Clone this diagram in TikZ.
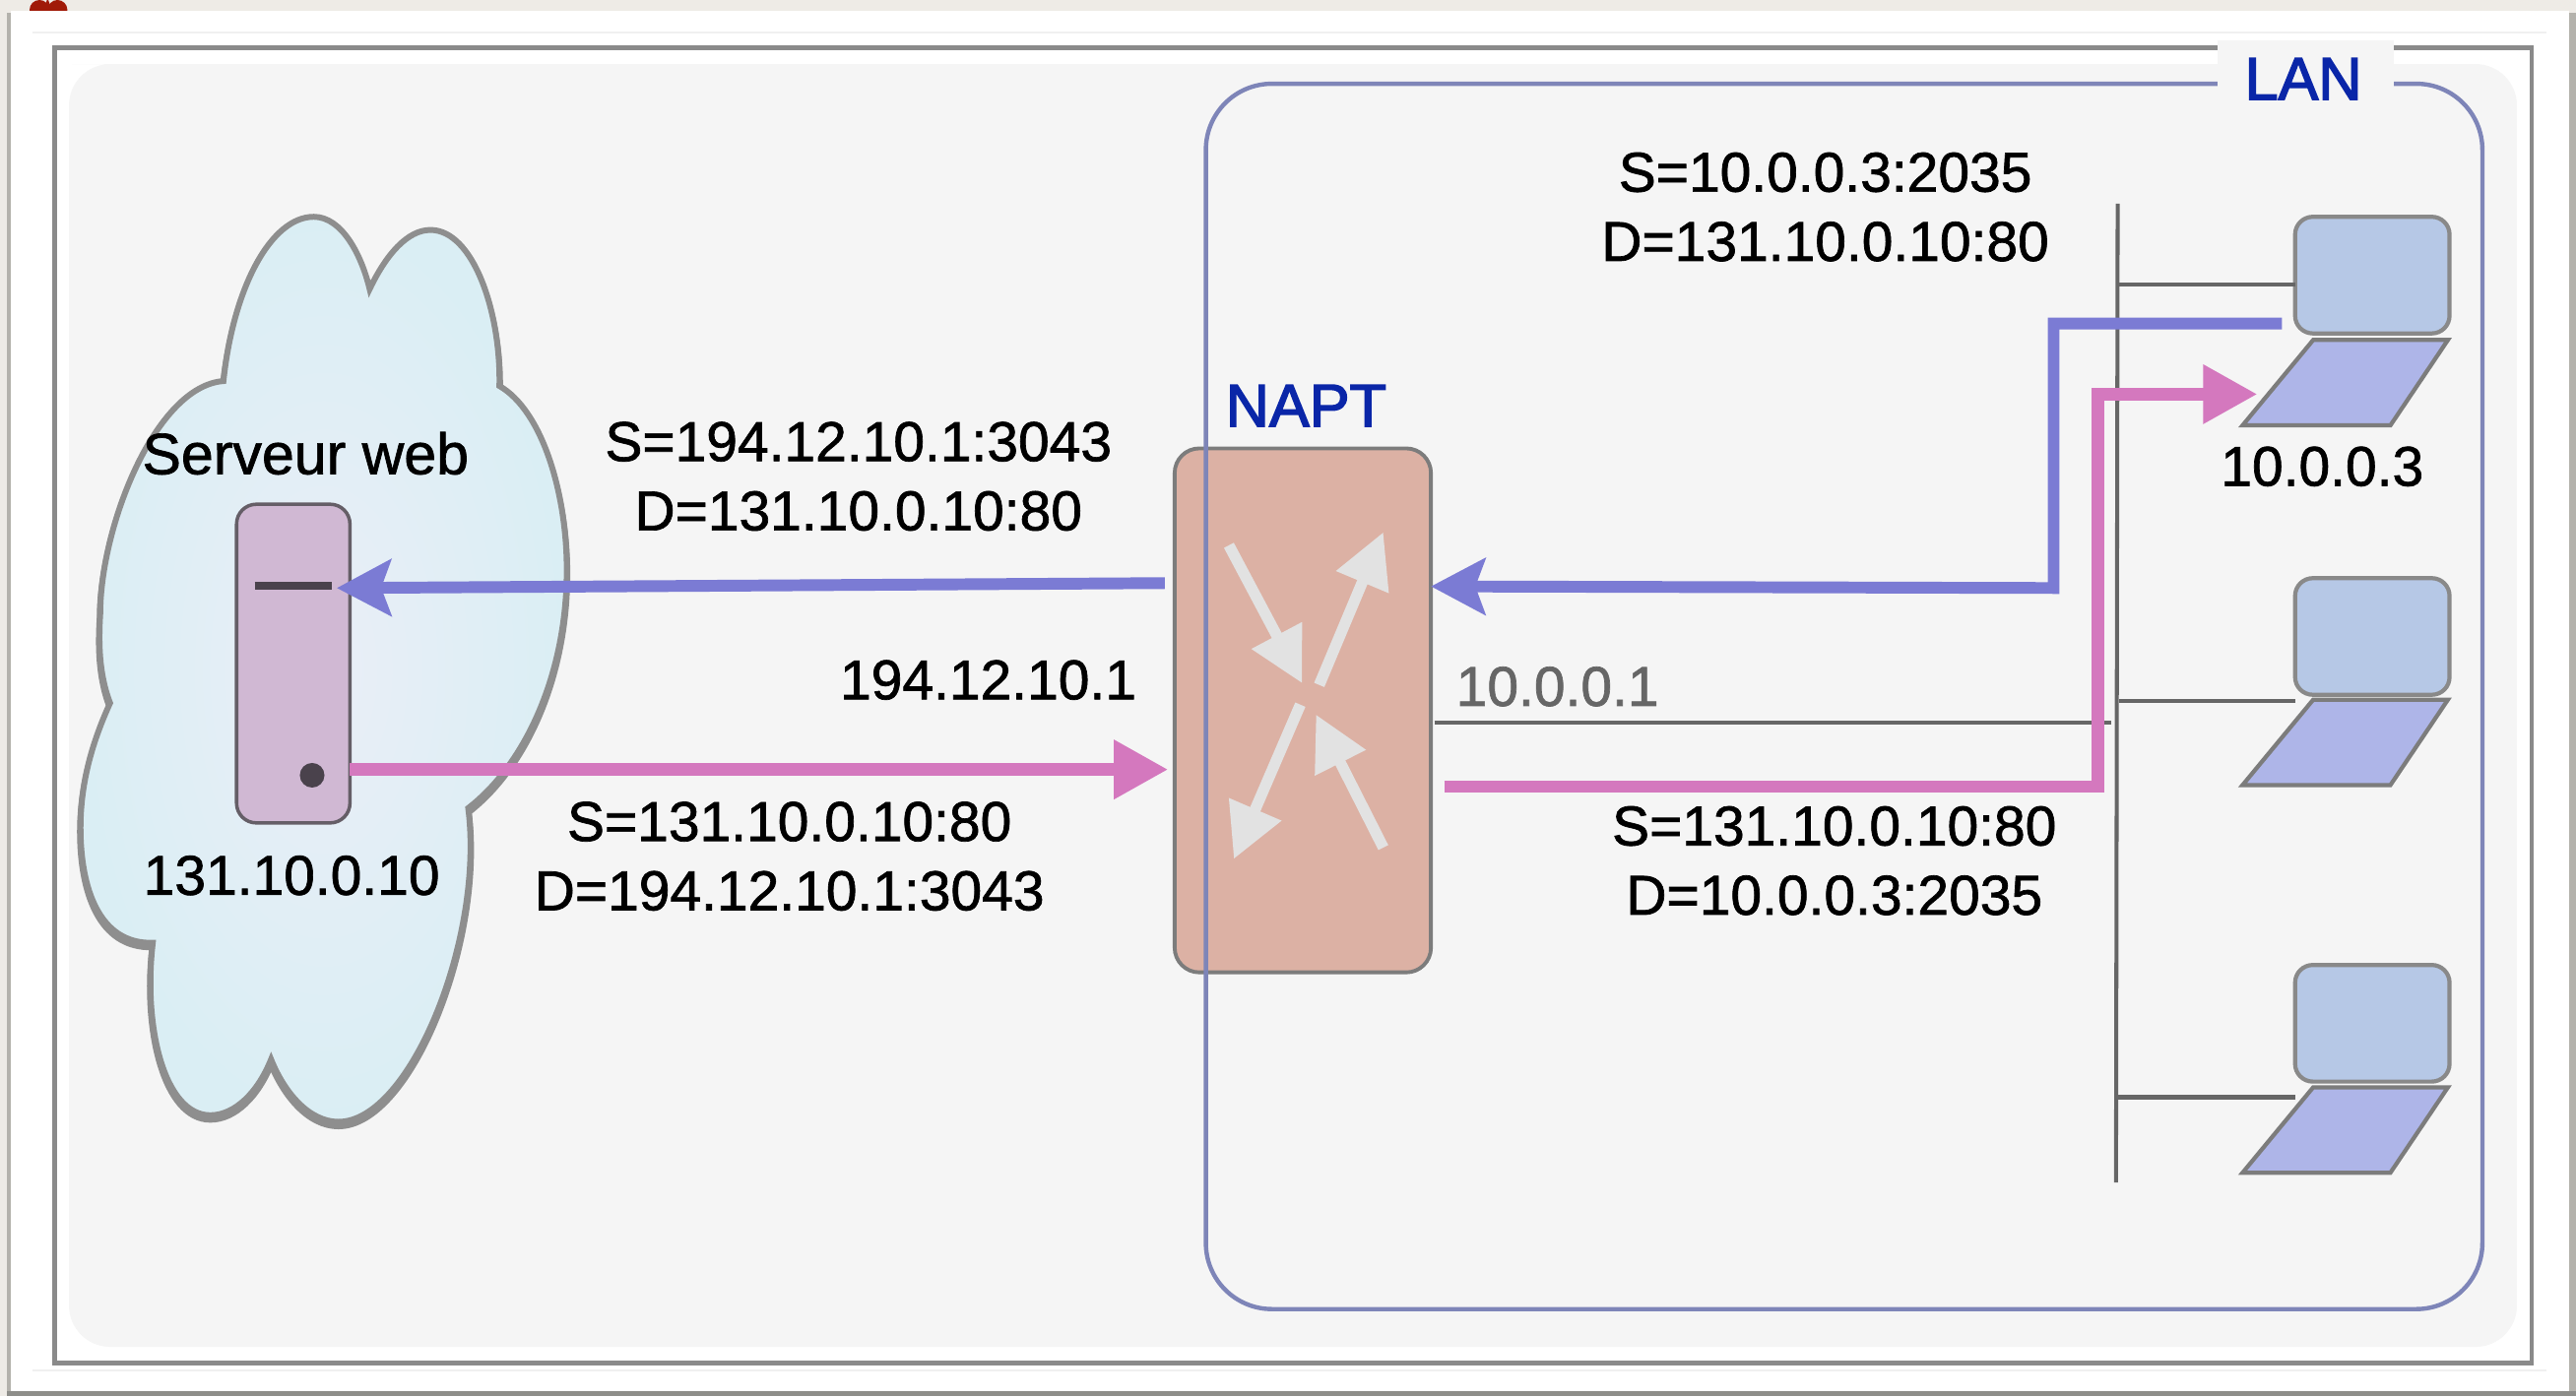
\documentclass[tikz,border=0pt]{standalone}
\usepackage{fontspec}
\setmainfont[FakeBold=1.2]{Liberation Sans}
\newfontfamily\titlefont[FakeBold=2.4]{Liberation Sans}
\usetikzlibrary{arrows.meta}
\definecolor{pagebg}{HTML}{EEEBE6}
\definecolor{panelshadow}{HTML}{B4B2AC}
\definecolor{panelbottom}{HTML}{8E8E8A}
\definecolor{hair}{HTML}{F0F0F0}
\definecolor{iconred}{HTML}{A01A08}
\definecolor{framegray}{HTML}{8A8A8A}
\definecolor{areagray}{HTML}{F5F5F5}
\definecolor{lanline}{HTML}{7E85B8}
\definecolor{titleblue}{HTML}{0A26A8}
\definecolor{cloudline}{HTML}{8E8E8E}
\definecolor{cloudout}{HTML}{DAEEF4}
\definecolor{cloudin}{HTML}{EAEEF7}
\definecolor{srvfill}{HTML}{D0B8D3}
\definecolor{srvdark}{HTML}{4A424C}
\definecolor{naptfill}{HTML}{DCB1A4}
\definecolor{boxline}{HTML}{7C7C7C}
\definecolor{screenfill}{HTML}{B6C8E6}
\definecolor{basefill}{HTML}{AEB5E8}
\definecolor{netline}{HTML}{666666}
\definecolor{bluepath}{HTML}{7B7BD4}
\definecolor{pinkpath}{HTML}{D478BE}
\definecolor{innerarrow}{HTML}{E2E2E2}
\tikzset{
  x=0.016684cm, y=-0.016684cm,
  txt/.style={inner sep=0pt, outer sep=0pt, align=center, text=black, font=\fontsize{16.2}{20}\selectfont},
  title/.style={inner sep=0pt, outer sep=0pt, text=titleblue, font=\titlefont\fontsize{17.4}{20}\selectfont},
  napt/.style={draw=boxline, line width=1.1pt, fill=naptfill, rounded corners=0.25cm, inner sep=0pt, outer sep=0pt, minimum width=156*0.016684cm, minimum height=319*0.016684cm},
  srv/.style={draw=srvdark!85!white, line width=1pt, fill=srvfill, rounded corners=0.2cm, inner sep=0pt, outer sep=0pt, minimum width=69*0.016684cm, minimum height=194*0.016684cm},
  screen/.style={draw=boxline!90!white, line width=1.2pt, fill=screenfill, rounded corners=0.18cm, inner sep=0pt, outer sep=0pt, minimum width=94*0.016684cm, minimum height=71*0.016684cm},
  base/.style={draw=boxline, line width=1.2pt, fill=basefill, line join=miter},
  net/.style={draw=netline, line width=1.15pt},
  bluearrow/.style={draw=bluepath, line width=3.4pt, -{Stealth[length=0.55cm,width=0.57cm,inset=0.1cm]}},
  pinkarrow/.style={draw=pinkpath, line width=3.6pt, -{Triangle[length=0.55cm,width=0.57cm]}},
  inner/.style={draw=innerarrow, line width=3.2pt, -{Triangle[length=0.55cm,width=0.55cm]}},
}
\begin{document}
\begin{tikzpicture}
\useasboundingbox (0,0) rectangle (1568,850);
% page and panel
\fill[pagebg] (0,0) rectangle (1568,850);
\fill[iconred] (24,6) circle (6);
\fill[iconred] (35,6) circle (6);
\fill[iconred] (26,7) -- (29,-1) -- (32,7) -- cycle;
\fill[panelshadow] (4,8) rectangle (1568,850);
\fill[panelbottom] (4,847) rectangle (1568,850);
\fill[white] (6.6,6.6) rectangle (1564,847);
\draw[hair, line width=0.5pt] (20,20) -- (1550,20);
\draw[hair, line width=0.5pt] (20,834.5) -- (1550,834.5);
% frame and grey area
\draw[framegray, line width=1.4pt] (33,29) rectangle (1541,830);
\fill[areagray, rounded corners=0.42cm] (69,39) -- (1532,39) -- (1532,820) -- (42,820) -- (42,39) -- cycle;
% cloud
\def\cloudpath{(136,232) .. controls (142,175) and (165,132) .. (191,132) .. controls (208,132) and (220,155) .. (225,176) .. controls (235,155) and (248,140) .. (262,140) .. controls (288,140) and (305,190) .. (304,235) .. controls (330,250) and (345,300) .. (345,347) .. controls (345,410) and (320,465) .. (285,492) .. controls (295,570) and (250,683) .. (206,683) .. controls (188,683) and (173,665) .. (165,645) .. controls (157,665) and (143,679) .. (128,679) .. controls (100,679) and (87,625) .. (93,574) .. controls (60,575) and (49,540) .. (49,504) .. controls (49,475) and (57,450) .. (67,428) .. controls (60,410) and (60,390) .. (61,374) .. controls (61,320) and (95,235) .. (136,232) -- cycle}
\begin{scope}[yshift=-0.04cm]
\draw[cloudline, line width=2pt, line join=miter] \cloudpath;
\end{scope}
\path[draw=cloudline, line width=1.7pt, line join=miter, inner color=cloudin, outer color=cloudout] \cloudpath;
% devices
\node[napt] (naptbox) at (793,432.5) {};
\node[srv] (server) at (178.5,404) {};
\node[screen] (pc1) at (1444,167.5) {};
\node[screen] (pc2) at (1444,387.5) {};
\node[screen] (pc3) at (1444,623) {};
\draw[base] (1408,207) -- (1490,207) -- (1455,259) -- (1365,259) -- cycle;
\draw[base] (1408,426) -- (1490,426) -- (1455,478) -- (1365,478) -- cycle;
\draw[base] (1408,662) -- (1490,662) -- (1455,714) -- (1365,714) -- cycle;
\draw[srvdark, line width=2.2pt] (155,356.5) -- (202,356.5);
\fill[srvdark] (190,472) circle (7.5);
% LAN area
\draw[lanline, line width=1.25pt, rounded corners=0.67cm] (734,51) rectangle (1511,797);
\fill[areagray] (1350,24.5) rectangle (1457,70);
% network lines
\coordinate (netTop) at (1289,124);
\coordinate (netBot) at (1288,720);
\coordinate (n1) at (1290,173);
\coordinate (n2) at (1290,427);
\coordinate (n2e) at (1397,427);
\coordinate (n3) at (1289,668);
\coordinate (n3e) at (1397,668);
\coordinate (gwa) at (873,440);
\coordinate (gwb) at (1285,440);
\draw[net] (netTop) -- (netBot);
\draw[net] (n1) -- (n1 -| pc1.west);
\draw[net] (n2) -- (n2e);
\draw[net] (n3) -- (n3e);
\draw[net] (gwa) -- (gwb);
% inner arrows of the NAT box
\coordinate (ia1) at (748,332); \coordinate (ib1) at (792.6,416);
\coordinate (ia2) at (803,417); \coordinate (ib2) at (842,324);
\coordinate (ia3) at (791.5,429); \coordinate (ib3) at (751,523);
\coordinate (ia4) at (842,516); \coordinate (ib4) at (801,435);
\draw[inner] (ia1) -- (ib1);
\draw[inner] (ia2) -- (ib2);
\draw[inner] (ia3) -- (ib3);
\draw[inner] (ia4) -- (ib4);
% flows
\coordinate (b1a) at (709,355); \coordinate (b1b) at (205,358);
\coordinate (p1a) at (213,468.5); \coordinate (p1b) at (711,468.5);
\coordinate (b2a) at (1389,197); \coordinate (b2c1) at (1250,197); \coordinate (b2c2) at (1250,358); \coordinate (b2b) at (871,357);
\coordinate (p2a) at (879,479); \coordinate (p2c1) at (1277,479); \coordinate (p2c2) at (1277,240); \coordinate (p2b) at (1374,240);
\draw[bluearrow] (b1a) -- (b1b);
\draw[pinkarrow] (p1a) -- (p1b);
\draw[bluearrow, line join=miter] (b2a) -- (b2c1) -- (b2c2) -- (b2b);
\draw[pinkarrow, line join=miter] (p2a) -- (p2c1) -- (p2c2) -- (p2b);
% labels
\node[title] (lanlab) at (1402,48) {LAN};
\node[title] (naptlab) at (795,247) {NAPT};
\node[txt, font=\fontsize{16.8}{20}\selectfont] (srvlab) at (186,276) {Serveur web};
\node[txt] (srvip) at (177.5,533) {131.10.0.10};
\node[txt] (pubip) at (601.5,414) {194.12.10.1};
\node[txt, text=netline] (privip) at (948,418) {10.0.0.1};
\node[txt] (pcip) at (1413.5,284) {10.0.0.3};
\node[txt] (f1) at (522.5,290) {S=194.12.10.1:3043\\D=131.10.0.10:80};
\node[txt] (f2) at (480.5,521.3) {S=131.10.0.10:80\\D=194.12.10.1:3043};
\node[txt] (f3) at (1111,126) {S=10.0.0.3:2035\\D=131.10.0.10:80};
\node[txt] (f4) at (1116.5,524) {S=131.10.0.10:80\\D=10.0.0.3:2035};
\end{tikzpicture}
\end{document}
